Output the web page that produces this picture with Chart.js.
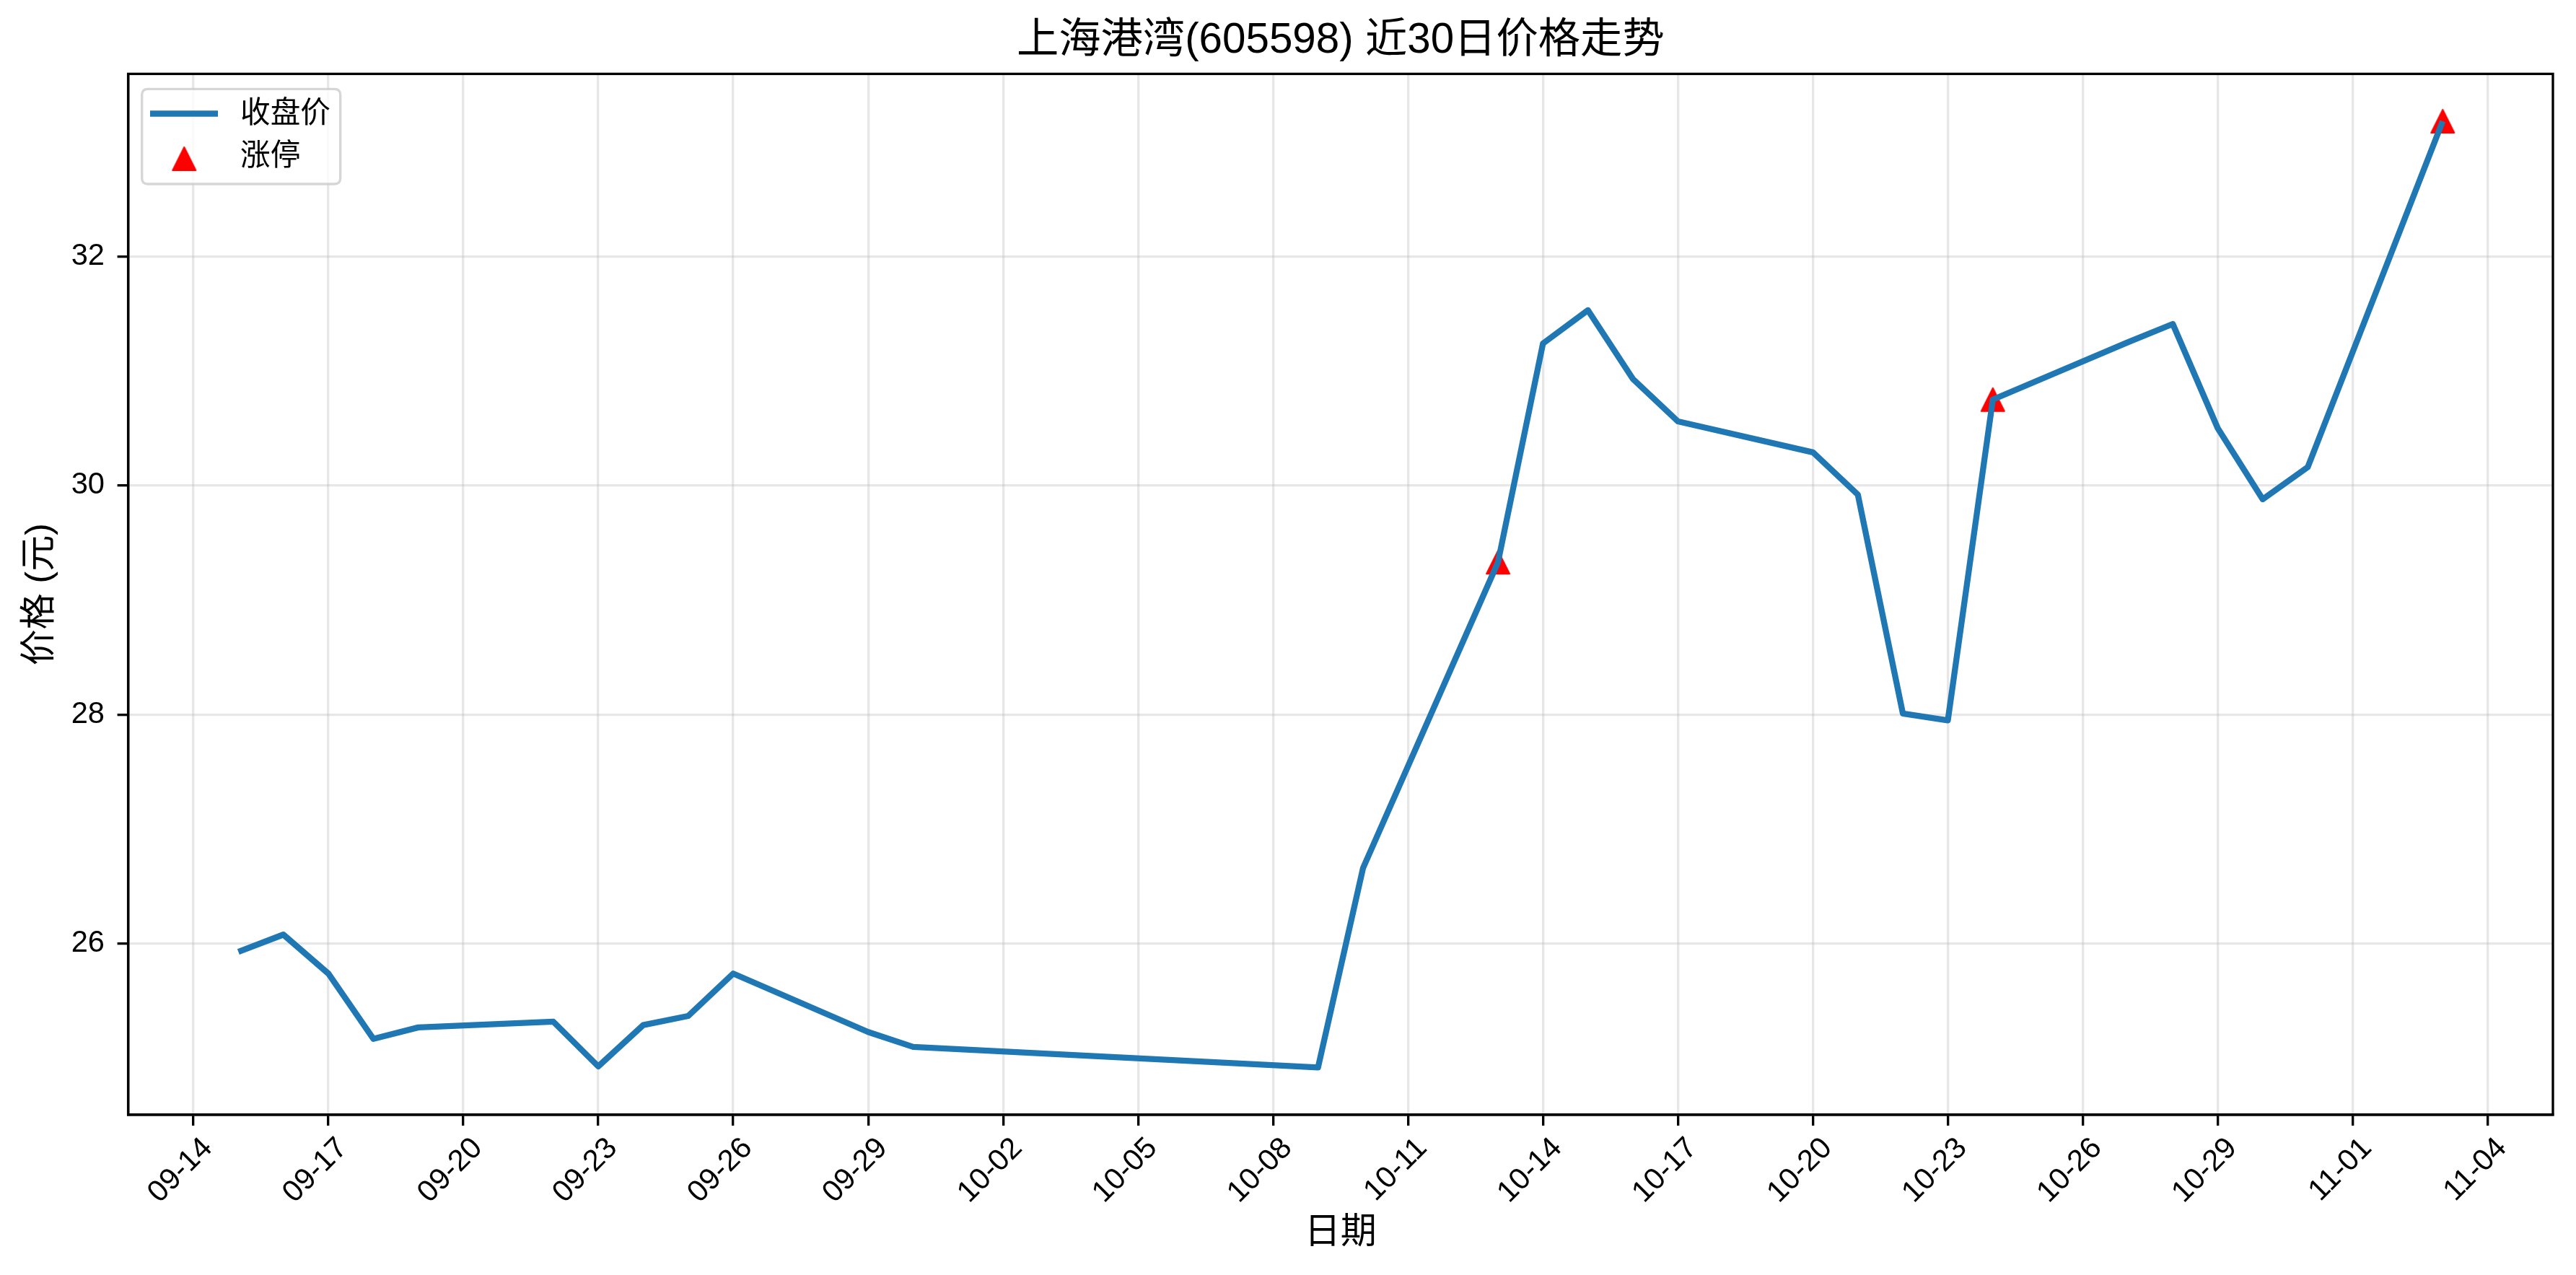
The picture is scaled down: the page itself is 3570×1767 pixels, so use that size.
<!DOCTYPE html>
<html>
<head>
<meta charset="utf-8">
<script src="https://cdn.jsdelivr.net/npm/chart.js@4.4.1/dist/chart.umd.min.js"></script>
<style>
  html, body { margin: 0; padding: 0; background: #ffffff; }
  #wrap { width: 3570px; height: 1767px; position: relative; }
</style>
</head>
<body>
<div id="wrap"><canvas id="c" width="3570" height="1767"></canvas></div>
<script>
// ---------------- data ----------------
const chartTitle = '上海港湾(605598) 近30日价格走势';
const xAxisTitle = '日期';
const yAxisTitle = '价格 (元)';
const seriesCloseLabel = '收盘价';
const seriesLimitLabel = '涨停';

const dates = [
  '2025-09-15','2025-09-16','2025-09-17','2025-09-18','2025-09-19',
  '2025-09-22','2025-09-23','2025-09-24','2025-09-25','2025-09-26',
  '2025-09-29','2025-09-30','2025-10-09','2025-10-10','2025-10-13',
  '2025-10-14','2025-10-15','2025-10-16','2025-10-17','2025-10-20',
  '2025-10-21','2025-10-22','2025-10-23','2025-10-24','2025-10-27',
  '2025-10-28','2025-10-29','2025-10-30','2025-10-31','2025-11-03'
];
const closes = [
  25.93, 26.08, 25.74, 25.17, 25.27,
  25.32, 24.93, 25.29, 25.37, 25.74,
  25.23, 25.10, 24.92, 26.66, 29.33,
  31.24, 31.53, 30.93, 30.56, 30.29,
  29.92, 28.01, 27.95, 30.75, 31.25,
  31.41, 30.50, 29.88, 30.16, 33.18
];
const limitUpDates = ['2025-10-13', '2025-10-24', '2025-11-03'];

const xTickDates = [
  '2025-09-14','2025-09-17','2025-09-20','2025-09-23','2025-09-26','2025-09-29',
  '2025-10-02','2025-10-05','2025-10-08','2025-10-11','2025-10-14','2025-10-17',
  '2025-10-20','2025-10-23','2025-10-26','2025-10-29','2025-11-01','2025-11-04'
];
const yTickValues = [26, 28, 30, 32];

// ---------------- helpers ----------------
const FONT = '"Liberation Sans", Arial, "Noto Sans CJK SC", sans-serif';
const PT = 300 / 72;
const dayNum = s => { const p = s.split('-').map(Number); return Date.UTC(p[0], p[1] - 1, p[2]) / 86400000; };
const fmtMD = v => { const d = new Date(Math.round(v) * 86400000); return String(d.getUTCMonth() + 1).padStart(2, '0') + '-' + String(d.getUTCDate()).padStart(2, '0'); };

const xs = dates.map(dayNum);
const linePts = xs.map((x, i) => ({ x: x, y: closes[i] }));
const limitPts = limitUpDates.map(d => ({ x: dayNum(d), y: closes[dates.indexOf(d)] }));

const xSpan = xs[xs.length - 1] - xs[0];
const xMin = xs[0] - 0.05 * xSpan, xMax = xs[xs.length - 1] + 0.05 * xSpan;
const yLo = Math.min(...closes), yHi = Math.max(...closes), ySpan = yHi - yLo;
const yMin = yLo - 0.05 * ySpan, yMax = yHi + 0.05 * ySpan;

// matplotlib-like '^' marker
function makeTriangle(size) {
  const c = document.createElement('canvas');
  const pad = 3;
  c.width = size + pad * 2; c.height = size + pad * 2;
  const g = c.getContext('2d');
  g.fillStyle = '#ff0000';
  g.strokeStyle = '#ff0000';
  g.lineWidth = 2;
  g.lineJoin = 'round';
  g.beginPath();
  g.moveTo(pad + size / 2, pad + 1);
  g.lineTo(pad + 1, pad + size - 1);
  g.lineTo(pad + size - 1, pad + size - 1);
  g.closePath();
  g.fill(); g.stroke();
  return c;
}
const tri = makeTriangle(34);

const LW = 0.8 * PT;
const gridColor = 'rgba(176,176,176,0.3)';

const framePlugin = {
  id: 'frameAndLegend',
  afterDraw(chart) {
    const ctx = chart.ctx, a = chart.chartArea;
    ctx.save();
    // spines
    ctx.strokeStyle = '#000000';
    ctx.lineWidth = LW;
    ctx.strokeRect(a.left, a.top, a.right - a.left, a.bottom - a.top);
    // legend box
    const bx = 196.7, by = 123.3, bw = 275, bh = 131.7, r = 8.3;
    ctx.beginPath();
    ctx.moveTo(bx + r, by);
    ctx.lineTo(bx + bw - r, by); ctx.quadraticCurveTo(bx + bw, by, bx + bw, by + r);
    ctx.lineTo(bx + bw, by + bh - r); ctx.quadraticCurveTo(bx + bw, by + bh, bx + bw - r, by + bh);
    ctx.lineTo(bx + r, by + bh); ctx.quadraticCurveTo(bx, by + bh, bx, by + bh - r);
    ctx.lineTo(bx, by + r); ctx.quadraticCurveTo(bx, by, bx + r, by);
    ctx.closePath();
    ctx.fillStyle = 'rgba(255,255,255,0.8)';
    ctx.fill();
    ctx.strokeStyle = 'rgba(204,204,204,0.8)';
    ctx.lineWidth = LW;
    ctx.stroke();
    // legend entries
    const ds0 = chart.data.datasets[0];
    ctx.strokeStyle = ds0.borderColor;
    ctx.lineWidth = ds0.borderWidth;
    ctx.lineCap = 'butt';
    ctx.beginPath(); ctx.moveTo(208, 157.5); ctx.lineTo(302, 157.5); ctx.stroke();
    ctx.drawImage(tri, 255.3 - tri.width / 2, 220 - tri.height / 2);
    ctx.fillStyle = '#000000';
    ctx.font = (10 * PT) + 'px ' + FONT;
    ctx.textAlign = 'left';
    ctx.textBaseline = 'middle';
    ctx.fillText(ds0.label, 333, 159);
    ctx.fillText(chart.data.datasets[1].label, 333, 218);
    ctx.restore();
  }
};

Chart.defaults.font.family = FONT;
Chart.defaults.color = '#000000';

new Chart(document.getElementById('c'), {
  type: 'line',
  data: {
    datasets: [
      {
        label: seriesCloseLabel,
        data: linePts,
        borderColor: '#1f77b4',
        backgroundColor: '#1f77b4',
        borderWidth: 2 * PT,
        pointRadius: 0,
        pointHoverRadius: 0,
        tension: 0,
        borderJoinStyle: 'round',
        borderCapStyle: 'butt',
        fill: false,
        order: 0
      },
      {
        label: seriesLimitLabel,
        data: limitPts,
        showLine: false,
        pointStyle: tri,
        pointRadius: 17,
        pointHoverRadius: 17,
        borderColor: '#ff0000',
        backgroundColor: '#ff0000',
        order: 1
      }
    ]
  },
  options: {
    responsive: false,
    animation: false,
    devicePixelRatio: 1,
    events: [],
    layout: { padding: { left: 0, right: 32, top: 0, bottom: 0 } },
    plugins: {
      legend: { display: false },
      tooltip: { enabled: false },
      title: {
        display: true,
        fullSize: false,
        text: chartTitle,
        color: '#000000',
        font: { size: 14 * PT, weight: 'normal', family: FONT, lineHeight: 1.2 },
        padding: { top: 22, bottom: 10.4 }
      }
    },
    scales: {
      x: {
        type: 'linear',
        min: xMin,
        max: xMax,
        afterBuildTicks: s => { s.ticks = xTickDates.map(d => ({ value: dayNum(d) })); },
        afterFit: s => { s.height = 222; },
        ticks: {
          autoSkip: false,
          minRotation: 45,
          maxRotation: 45,
          padding: 7,
          labelOffset: 20,
          color: '#000000',
          font: { size: 10 * PT, family: FONT },
          callback: v => fmtMD(v)
        },
        grid: {
          color: gridColor,
          lineWidth: LW,
          drawTicks: true,
          tickLength: 15,
          tickColor: '#000000',
          tickWidth: LW
        },
        border: { display: true, color: '#000000', width: LW },
        title: {
          display: true,
          text: xAxisTitle,
          color: '#000000',
          font: { size: 12 * PT, family: FONT, lineHeight: 1.2 },
          padding: { top: 0, bottom: 28 }
        }
      },
      y: {
        type: 'linear',
        min: yMin,
        max: yMax,
        afterBuildTicks: s => { s.ticks = yTickValues.map(v => ({ value: v })); },
        afterFit: s => { s.width = 177.6; },
        ticks: {
          padding: 17.6,
          color: '#000000',
          font: { size: 10 * PT, family: FONT },
          callback: v => String(v)
        },
        grid: {
          color: gridColor,
          lineWidth: LW,
          drawTicks: true,
          tickLength: 15,
          tickColor: '#000000',
          tickWidth: LW
        },
        border: { display: true, color: '#000000', width: LW },
        title: {
          display: true,
          text: yAxisTitle,
          color: '#000000',
          font: { size: 12 * PT, family: FONT, lineHeight: 1.2 },
          padding: { top: 26, bottom: 0 }
        }
      }
    }
  },
  plugins: [framePlugin]
});
</script>
</body>
</html>
